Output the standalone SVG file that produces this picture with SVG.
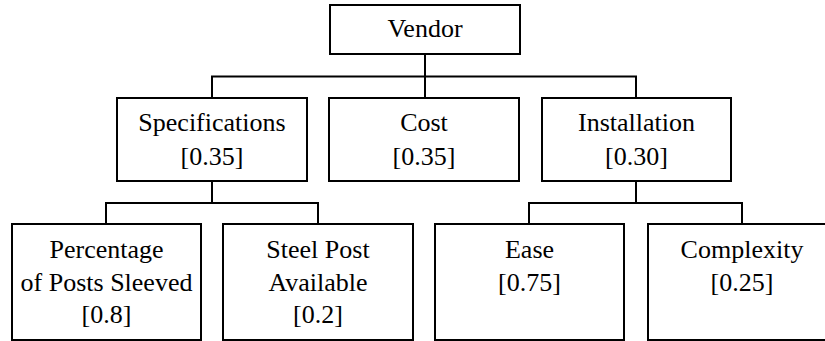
<svg xmlns="http://www.w3.org/2000/svg" width="825" height="341" viewBox="0 0 825 341">
<style>
  .box { fill: #ffffff; stroke: #000000; stroke-width: 2; }
  .wire { fill: none; stroke: #000000; stroke-width: 2; }
  .lbl { font-family: 'Times New Roman', 'Liberation Serif', Tinos, 'DejaVu Serif', serif; font-size: 26px; fill: #000000; text-anchor: middle; }
</style>
<rect x="0" y="0" width="825" height="341" fill="#ffffff"/>
<g id="connectors">
  <path class="wire" d="M425,54 V98"/>
  <path class="wire" d="M212,98 V76.5 H636 V98"/>
  <path class="wire" d="M212,181 V203"/>
  <path class="wire" d="M106,224 V203 H318 V224"/>
  <path class="wire" d="M636,181 V203"/>
  <path class="wire" d="M529,224 V203 H742 V224"/>
</g>
<g id="vendor">
  <rect class="box" x="330" y="5" width="190" height="49"/>
  <text class="lbl" x="425" y="37">Vendor</text>
</g>
<g id="specifications">
  <rect class="box" x="117" y="98" width="190" height="83"/>
  <text class="lbl" x="212" y="131">Specifications</text>
  <text class="lbl" x="212" y="165">[0.35]</text>
</g>
<g id="cost">
  <rect class="box" x="329" y="98" width="190" height="83"/>
  <text class="lbl" x="424" y="131">Cost</text>
  <text class="lbl" x="424" y="165">[0.35]</text>
</g>
<g id="installation">
  <rect class="box" x="542" y="98" width="189" height="83"/>
  <text class="lbl" x="636.5" y="131">Installation</text>
  <text class="lbl" x="636.5" y="165">[0.30]</text>
</g>
<g id="percentage">
  <rect class="box" x="12" y="224" width="189" height="116"/>
  <text class="lbl" x="106.5" y="258">Percentage</text>
  <text class="lbl" x="106.5" y="291">of Posts Sleeved</text>
  <text class="lbl" x="106.5" y="323">[0.8]</text>
</g>
<g id="steel">
  <rect class="box" x="223" y="224" width="190" height="116"/>
  <text class="lbl" x="318" y="258">Steel Post</text>
  <text class="lbl" x="318" y="291">Available</text>
  <text class="lbl" x="318" y="323">[0.2]</text>
</g>
<g id="ease">
  <rect class="box" x="435" y="224" width="189" height="116"/>
  <text class="lbl" x="529.5" y="258">Ease</text>
  <text class="lbl" x="529.5" y="291">[0.75]</text>
</g>
<g id="complexity">
  <rect class="box" x="648" y="224" width="189" height="116"/>
  <text class="lbl" x="742" y="258">Complexity</text>
  <text class="lbl" x="742" y="291">[0.25]</text>
</g>
</svg>
